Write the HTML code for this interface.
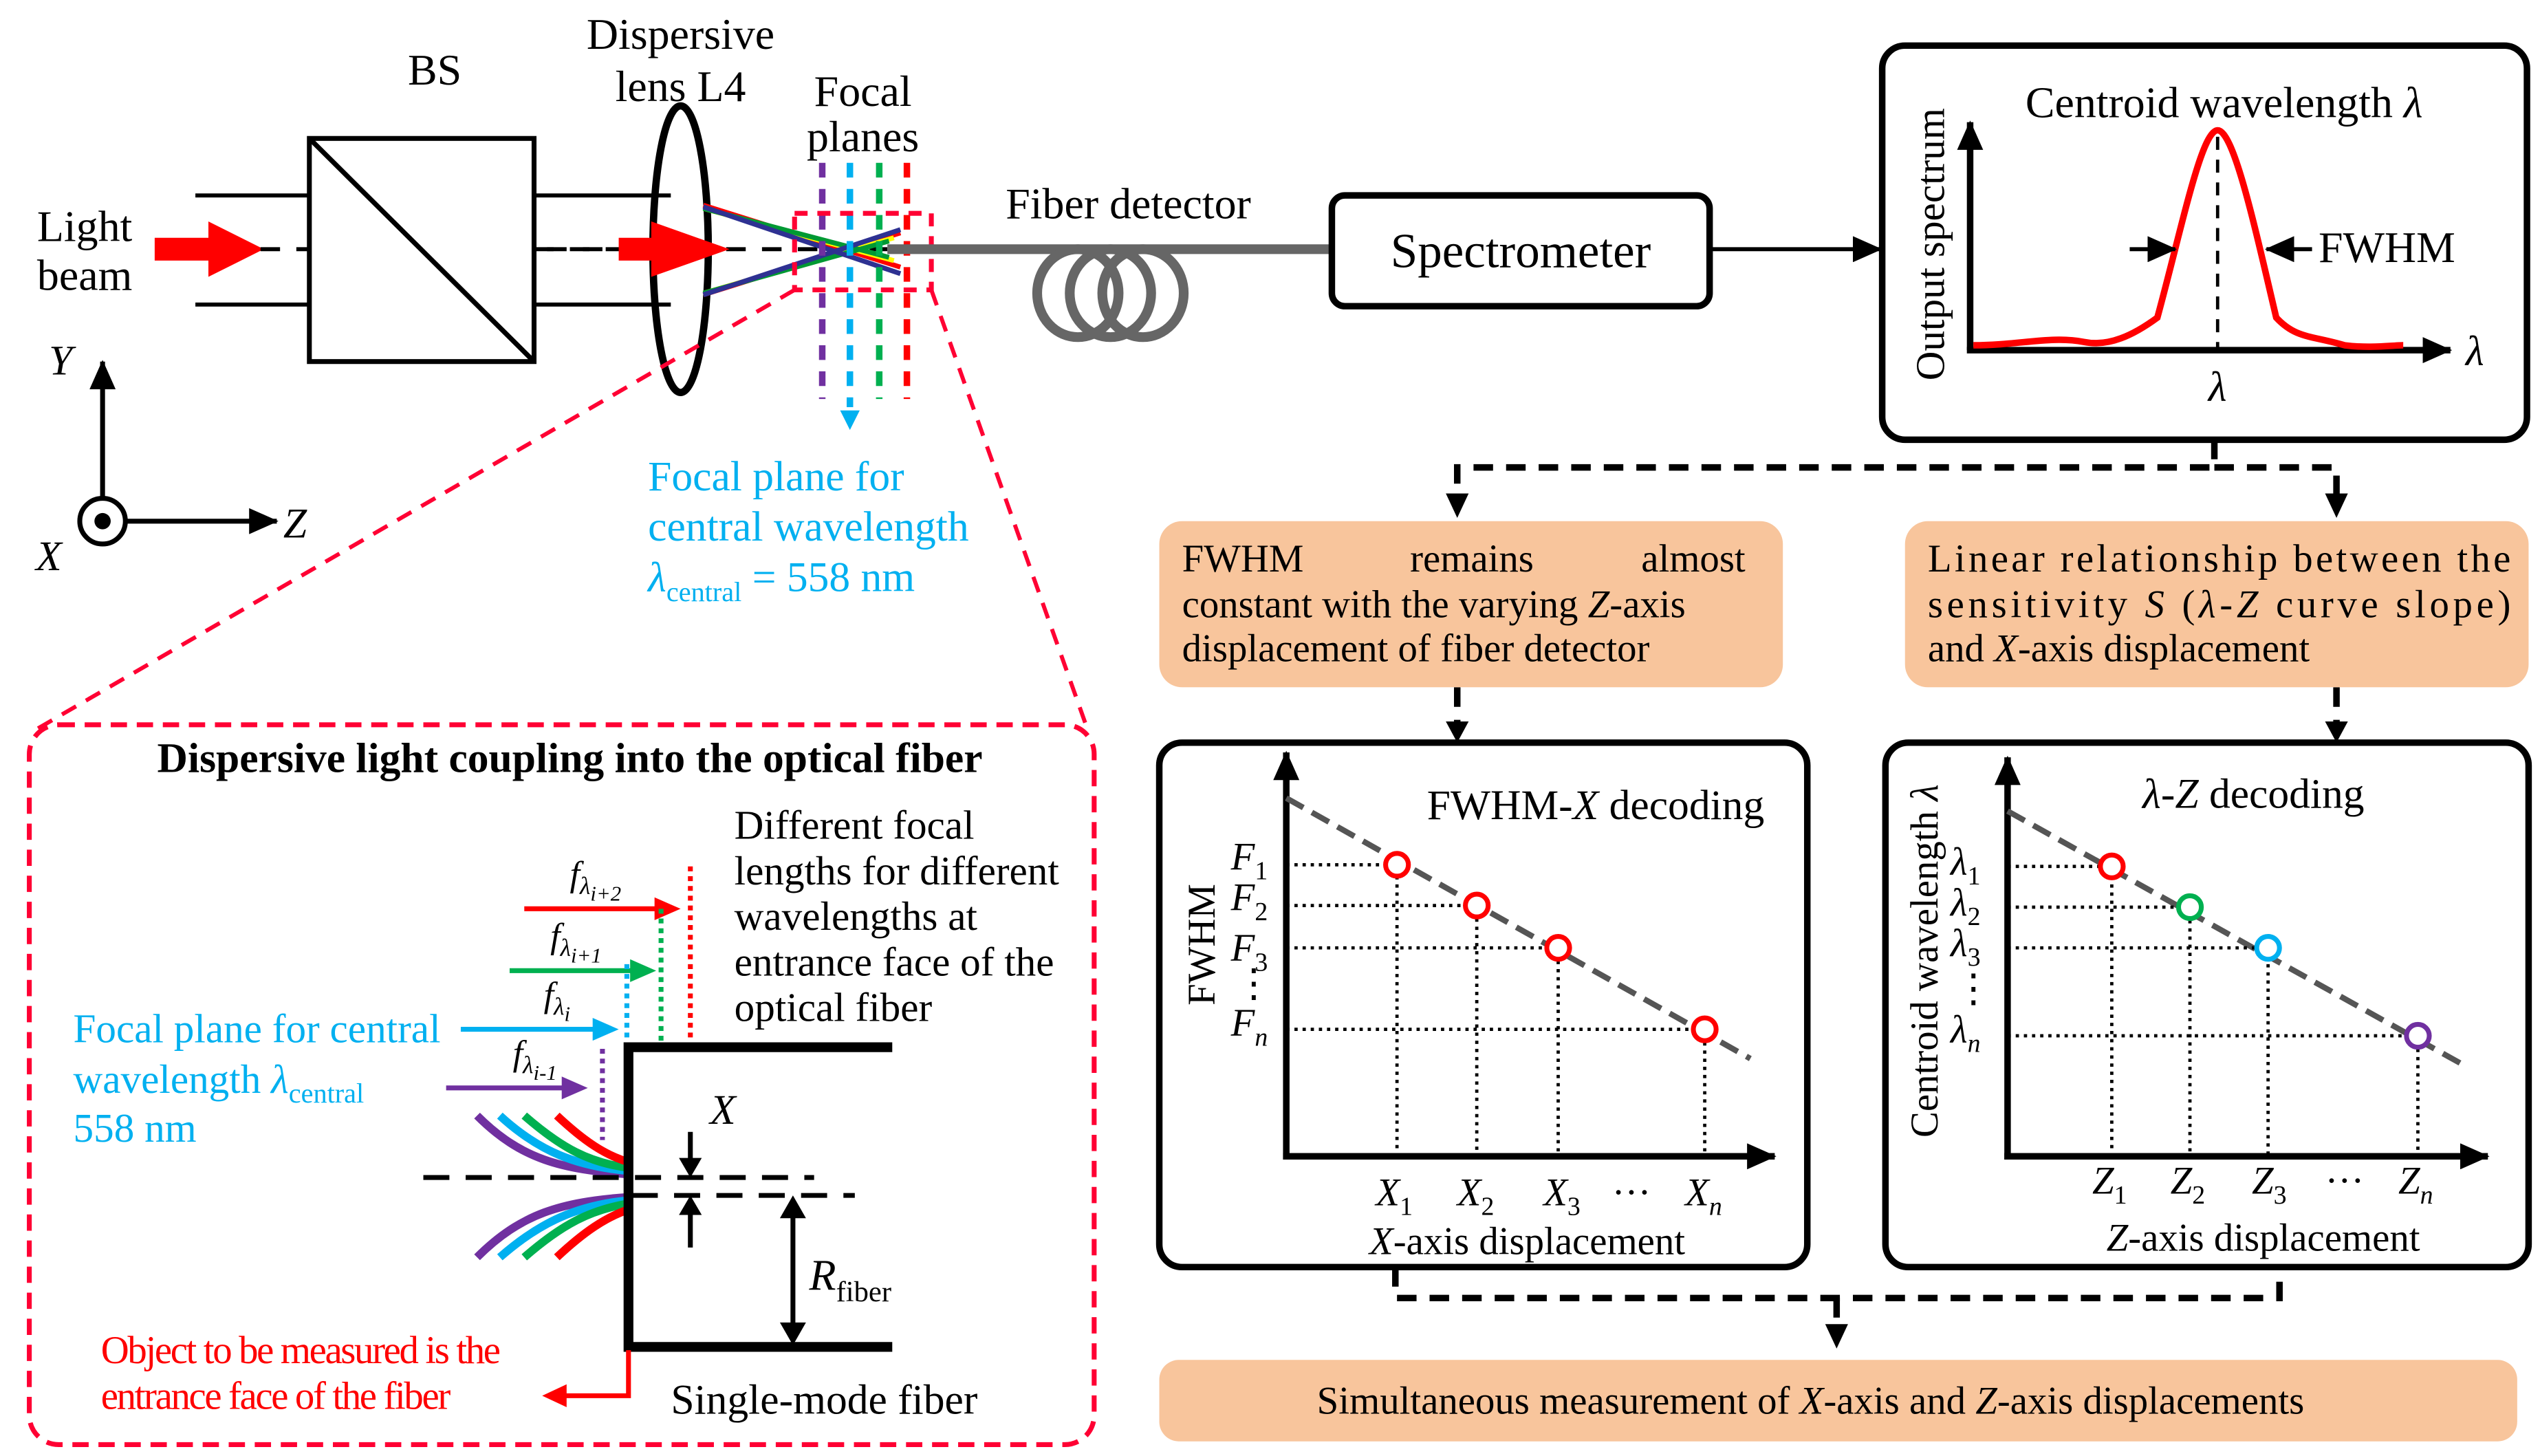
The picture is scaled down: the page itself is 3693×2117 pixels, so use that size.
<!DOCTYPE html>
<html><head><meta charset="utf-8"><style>
html,body{margin:0;padding:0;background:#fff;}
svg{display:block;}
svg *, text, tspan{font-family:"Liberation Serif","Times New Roman","DejaVu Serif",serif !important;}
text{fill:#000;}
</style></head><body>
<svg width="3693" height="2117" viewBox="0 0 1560 894" preserveAspectRatio="none" xmlns="http://www.w3.org/2000/svg" font-family="Liberation Serif, serif">
<defs>
<marker id="abig" markerWidth="18" markerHeight="16" refX="17" refY="8" orient="auto" markerUnits="userSpaceOnUse"><path d="M0,0 L18,8 L0,16z" fill="#000"/></marker>
</defs>
<rect width="1560" height="894" fill="#fff"/>
<g font-family="Liberation Serif, serif">
<!-- Light beam -->
<text x="52" y="148" font-size="27" text-anchor="middle">Light</text>
<text x="52" y="178" font-size="27" text-anchor="middle">beam</text>
<path d="M95,146 H128 V136 L162,153 L128,170 V160 H95z" fill="#f00"/>
<line x1="120" y1="120" x2="412" y2="120" stroke="#000" stroke-width="2.5"/>
<line x1="120" y1="187" x2="412" y2="187" stroke="#000" stroke-width="2.5"/>
<line x1="160" y1="153" x2="545" y2="153" stroke="#000" stroke-width="2.5" stroke-dasharray="12,10"/>
<!-- BS -->
<rect x="190" y="85" width="138" height="137" fill="#fff" stroke="#000" stroke-width="3"/>
<line x1="190" y1="85" x2="328" y2="222" stroke="#000" stroke-width="3"/>
<line x1="328" y1="153" x2="400" y2="153" stroke="#000" stroke-width="2.5" stroke-dasharray="12,10"/>
<text x="267" y="52" font-size="27" text-anchor="middle">BS</text>
<!-- Lens -->
<text x="418" y="30" font-size="27" text-anchor="middle">Dispersive</text>
<text x="418" y="62" font-size="27" text-anchor="middle">lens L4</text>
<ellipse cx="418" cy="153" rx="17" ry="88" fill="none" stroke="#000" stroke-width="4.5"/>
<path d="M380,146 H400 V136 L448,153 L400,170 V160 H380z" fill="#f00"/>
<!-- rays -->
<g stroke-width="3">
<line x1="432" y1="126" x2="553" y2="164" stroke="#f00"/>
<line x1="432" y1="181" x2="553" y2="143" stroke="#f00"/>
<line x1="432" y1="128" x2="549" y2="160" stroke="#ff0"/>
<line x1="432" y1="180" x2="549" y2="146" stroke="#ff0"/>
<line x1="432" y1="128" x2="546" y2="158" stroke="#093"/>
<line x1="432" y1="180" x2="546" y2="148" stroke="#093"/>
<line x1="432" y1="127" x2="553" y2="168" stroke="#2e3192"/>
<line x1="432" y1="181" x2="553" y2="141" stroke="#2e3192"/>
</g>
<text x="530" y="65" font-size="27" text-anchor="middle">Focal</text>
<text x="530" y="93" font-size="27" text-anchor="middle">planes</text>
<g stroke-width="4" stroke-dasharray="9,7">
<line x1="505" y1="100" x2="505" y2="245" stroke="#7030a0"/>
<line x1="522" y1="100" x2="522" y2="250" stroke="#00b0f0"/>
<line x1="540" y1="100" x2="540" y2="245" stroke="#00b050"/>
<line x1="557" y1="100" x2="557" y2="245" stroke="#f00"/>
</g>
<path d="M516,252 L528,252 L522,264z" fill="#00b0f0"/>
<rect x="488" y="131" width="84" height="47" fill="none" stroke="#ff0033" stroke-width="3" stroke-dasharray="8,6"/>
<!-- fiber -->
<line x1="545" y1="153" x2="820" y2="153" stroke="#666" stroke-width="6"/>
<g fill="none" stroke="#666" stroke-width="6">
<ellipse cx="662" cy="180" rx="25" ry="27"/>
<ellipse cx="682" cy="180" rx="25" ry="27"/>
<ellipse cx="702" cy="180" rx="25" ry="27"/>
</g>
<text x="693" y="134" font-size="27" text-anchor="middle">Fiber detector</text>
<rect x="818" y="120" width="232" height="68" rx="8" fill="#fff" stroke="#000" stroke-width="4"/>
<text x="934" y="164" font-size="30" text-anchor="middle">Spectrometer</text>
<line x1="1050" y1="153" x2="1155" y2="153" stroke="#000" stroke-width="2.5" marker-end="url(#abig)"/>

<!-- Spectrum box -->
<rect x="1156" y="28" width="396" height="242" rx="14" fill="#fff" stroke="#000" stroke-width="4"/>
<text x="1366" y="72" font-size="27" text-anchor="middle">Centroid wavelength <tspan font-style="italic">λ</tspan></text>
<line x1="1210" y1="215" x2="1210" y2="75" stroke="#000" stroke-width="4" marker-end="url(#abig)"/>
<line x1="1208" y1="215" x2="1505" y2="215" stroke="#000" stroke-width="4" marker-end="url(#abig)"/>
<text transform="translate(1194,150) rotate(-90)" font-size="25" text-anchor="middle">Output spectrum</text>
<path d="M1212,212 C1240,212 1260,206 1280,210 C1295,213 1310,206 1325,195 C1340,140 1352,80 1362,80 C1372,80 1385,140 1398,195 C1410,208 1420,206 1440,212 C1455,214 1470,212 1476,212" fill="none" stroke="#f00" stroke-width="4"/>
<line x1="1362" y1="84" x2="1362" y2="215" stroke="#000" stroke-width="2" stroke-dasharray="8,6"/>
<text x="1362" y="246" font-size="26" font-style="italic" text-anchor="middle">λ</text>
<text x="1520" y="224" font-size="26" font-style="italic" text-anchor="middle">λ</text>
<line x1="1308" y1="153" x2="1336" y2="153" stroke="#000" stroke-width="2.5" marker-end="url(#abig)"/>
<line x1="1420" y1="153" x2="1392" y2="153" stroke="#000" stroke-width="2.5" marker-end="url(#abig)"/>
<text x="1424" y="161" font-size="27">FWHM</text>

<!-- connectors -->
<g stroke="#000" stroke-width="4" stroke-dasharray="12,8" fill="none">
<path d="M1360,270 V287 H895 V305"/>
<path d="M1360,287 H1435 V305"/>
<path d="M895,422 V445"/>
<path d="M1435,422 V445"/>
<path d="M857,778 V797 H1400 V778"/>
<path d="M1128,797 V815"/>
</g>
<path d="M888,303 L902,303 L895,318z M1428,303 L1442,303 L1435,318z M888,443 L902,443 L895,456z M1428,443 L1442,443 L1435,456z M1121,813 L1135,813 L1128,828z" fill="#000"/>

<!-- orange boxes -->
<rect x="712" y="320" width="383" height="102" rx="14" fill="#f8c59c"/>
<text font-size="24"><tspan x="726" y="351">FWHM</tspan><tspan x="866" y="351">remains</tspan><tspan x="1008" y="351">almost</tspan></text>
<text x="726" y="379" font-size="24">constant with the varying <tspan font-style="italic">Z</tspan>-axis</text>
<text x="726" y="406" font-size="24">displacement of fiber detector</text>
<rect x="1170" y="320" width="383" height="102" rx="14" fill="#f8c59c"/>
<text x="1184" y="351" font-size="24" textLength="358" lengthAdjust="spacing">Linear relationship between the</text>
<text x="1184" y="379" font-size="24" textLength="358" lengthAdjust="spacing">sensitivity <tspan font-style="italic">S</tspan> (<tspan font-style="italic">λ</tspan>-<tspan font-style="italic">Z</tspan> curve slope)</text>
<text x="1184" y="406" font-size="24">and <tspan font-style="italic">X</tspan>-axis displacement</text>
<rect x="712" y="835" width="834" height="50" rx="12" fill="#f8c59c"/>
<text x="1112" y="868" font-size="24" text-anchor="middle">Simultaneous measurement of <tspan font-style="italic">X</tspan>-axis and <tspan font-style="italic">Z</tspan>-axis displacements</text>

<!-- FWHM-X chart -->
<rect x="712" y="456" width="398" height="322" rx="14" fill="#fff" stroke="#000" stroke-width="4"/>
<line x1="790" y1="712" x2="790" y2="462" stroke="#000" stroke-width="4" marker-end="url(#abig)"/>
<line x1="788" y1="710" x2="1090" y2="710" stroke="#000" stroke-width="4" marker-end="url(#abig)"/>
<text x="980" y="503" font-size="26" text-anchor="middle">FWHM-<tspan font-style="italic">X</tspan> decoding</text>
<line x1="790" y1="490" x2="1075" y2="650" stroke="#555" stroke-width="3.5" stroke-dasharray="12,6"/>
<path d="M790,531 H858 V710 M790,556 H907 V710 M790,582 H957 V710 M790,632 H1047 V710" fill="none" stroke="#000" stroke-width="2" stroke-dasharray="2,3"/>
<g fill="#fff" stroke="#f00" stroke-width="3">
<circle cx="858" cy="531" r="7"/><circle cx="907" cy="556" r="7"/><circle cx="957" cy="582" r="7"/><circle cx="1047" cy="632" r="7"/>
</g>
<g font-size="24" font-style="italic">
<text x="756" y="534">F<tspan font-style="normal" font-size="16" dy="6">1</tspan></text>
<text x="756" y="559">F<tspan font-style="normal" font-size="16" dy="6">2</tspan></text>
<text x="756" y="590">F<tspan font-style="normal" font-size="16" dy="6">3</tspan></text>
<text x="758" y="612" font-style="normal">⋮</text>
<text x="756" y="636">F<tspan font-size="16" dy="6">n</tspan></text>
<text x="845" y="740">X<tspan font-style="normal" font-size="16" dy="6">1</tspan></text>
<text x="895" y="740">X<tspan font-style="normal" font-size="16" dy="6">2</tspan></text>
<text x="948" y="740">X<tspan font-style="normal" font-size="16" dy="6">3</tspan></text>
<text x="990" y="740" font-style="normal">···</text>
<text x="1035" y="740">X<tspan font-size="16" dy="6">n</tspan></text>
</g>
<text transform="translate(746,580) rotate(-90)" font-size="24" text-anchor="middle">FWHM</text>
<text x="938" y="770" font-size="24" text-anchor="middle"><tspan font-style="italic">X</tspan>-axis displacement</text>

<!-- lambda-Z chart -->
<rect x="1158" y="456" width="395" height="322" rx="14" fill="#fff" stroke="#000" stroke-width="4"/>
<line x1="1233" y1="712" x2="1233" y2="465" stroke="#000" stroke-width="4" marker-end="url(#abig)"/>
<line x1="1231" y1="710" x2="1528" y2="710" stroke="#000" stroke-width="4" marker-end="url(#abig)"/>
<text x="1384" y="496" font-size="26" text-anchor="middle"><tspan font-style="italic">λ</tspan>-<tspan font-style="italic">Z</tspan> decoding</text>
<line x1="1233" y1="498" x2="1515" y2="655" stroke="#555" stroke-width="3.5" stroke-dasharray="12,6"/>
<path d="M1233,532 H1297 V710 M1233,557 H1345 V710 M1233,582 H1393 V710 M1233,636 H1485 V710" fill="none" stroke="#000" stroke-width="2" stroke-dasharray="2,3"/>
<g fill="#fff" stroke-width="3">
<circle cx="1297" cy="532" r="7" stroke="#f00"/><circle cx="1345" cy="557" r="7" stroke="#00b050"/><circle cx="1393" cy="582" r="7" stroke="#00b0f0"/><circle cx="1485" cy="636" r="7" stroke="#7030a0"/>
</g>
<g font-size="24" font-style="italic">
<text x="1198" y="537">λ<tspan font-style="normal" font-size="16" dy="6">1</tspan></text>
<text x="1198" y="562">λ<tspan font-style="normal" font-size="16" dy="6">2</tspan></text>
<text x="1198" y="587">λ<tspan font-style="normal" font-size="16" dy="6">3</tspan></text>
<text x="1200" y="615" font-style="normal">⋮</text>
<text x="1198" y="640">λ<tspan font-size="16" dy="6">n</tspan></text>
<text x="1285" y="733">Z<tspan font-style="normal" font-size="16" dy="6">1</tspan></text>
<text x="1333" y="733">Z<tspan font-style="normal" font-size="16" dy="6">2</tspan></text>
<text x="1383" y="733">Z<tspan font-style="normal" font-size="16" dy="6">3</tspan></text>
<text x="1428" y="733" font-style="normal">···</text>
<text x="1473" y="733">Z<tspan font-size="16" dy="6">n</tspan></text>
</g>
<text transform="translate(1190,590) rotate(-90)" font-size="24" text-anchor="middle">Centroid wavelength <tspan font-style="italic">λ</tspan></text>
<text x="1390" y="768" font-size="24" text-anchor="middle"><tspan font-style="italic">Z</tspan>-axis displacement</text>

<!-- coordinate axes -->
<line x1="63" y1="305" x2="63" y2="222" stroke="#000" stroke-width="3" marker-end="url(#abig)"/>
<line x1="78" y1="320" x2="170" y2="320" stroke="#000" stroke-width="3" marker-end="url(#abig)"/>
<circle cx="63" cy="320" r="14" fill="#fff" stroke="#000" stroke-width="3"/>
<circle cx="63" cy="320" r="5" fill="#000"/>
<text x="30" y="230" font-size="26" font-style="italic">Y</text>
<text x="174" y="330" font-size="26" font-style="italic">Z</text>
<text x="22" y="350" font-size="26" font-style="italic">X</text>

<!-- focal plane label -->
<text x="398" y="301" font-size="26" style="fill:#00b0f0">Focal plane for</text>
<text x="398" y="332" font-size="26" style="fill:#00b0f0">central  wavelength</text>
<text x="398" y="363" font-size="26" style="fill:#00b0f0"><tspan font-style="italic">λ</tspan><tspan font-size="17" dy="6">central</tspan><tspan dy="-6"> = 558 nm</tspan></text>

<!-- dashed red lines to inset -->
<line x1="488" y1="178" x2="22" y2="448" stroke="#ff0033" stroke-width="2.5" stroke-dasharray="10,7"/>
<line x1="572" y1="178" x2="668" y2="448" stroke="#ff0033" stroke-width="2.5" stroke-dasharray="10,7"/>
<rect x="18" y="445" width="654" height="442" rx="18" fill="#fff" stroke="#ff0033" stroke-width="3" stroke-dasharray="10,6"/>
<text x="350" y="474" font-size="26" font-weight="bold" text-anchor="middle">Dispersive light coupling into the optical  fiber</text>

<!-- inset contents -->
<g font-size="25">
<text x="451" y="515">Different focal</text>
<text x="451" y="543">lengths for different</text>
<text x="451" y="571">wavelengths at</text>
<text x="451" y="599">entrance face of the</text>
<text x="451" y="627">optical fiber</text>
</g>
<text x="45" y="640" font-size="25" style="fill:#00b0f0">Focal plane for central</text>
<text x="45" y="671" font-size="25" style="fill:#00b0f0">wavelength <tspan font-style="italic">λ</tspan><tspan font-size="17" dy="6">central</tspan></text>
<text x="45" y="701" font-size="25" style="fill:#00b0f0">558 nm</text>
<!-- f arrows -->
<g stroke-width="3">
<line x1="322" y1="558" x2="408" y2="558" stroke="#f00"/>
<path d="M402,551 L418,558 L402,565z" fill="#f00"/>
<line x1="313" y1="596" x2="392" y2="596" stroke="#00b050"/>
<path d="M387,589 L403,596 L387,603z" fill="#00b050"/>
<line x1="283" y1="632" x2="370" y2="632" stroke="#00b0f0"/>
<path d="M364,625 L380,632 L364,639z" fill="#00b0f0"/>
<line x1="274" y1="668" x2="350" y2="668" stroke="#7030a0"/>
<path d="M345,661 L361,668 L345,675z" fill="#7030a0"/>
</g>
<g stroke-width="3" stroke-dasharray="3,3">
<line x1="424" y1="532" x2="424" y2="640" stroke="#f00"/>
<line x1="406" y1="558" x2="406" y2="640" stroke="#00b050"/>
<line x1="385" y1="592" x2="385" y2="640" stroke="#00b0f0"/>
<line x1="370" y1="644" x2="370" y2="700" stroke="#7030a0"/>
</g>
<g font-size="22" font-style="italic">
<text x="350" y="544">f<tspan font-size="15" dy="5">λ</tspan><tspan font-size="13" dy="4">i+2</tspan></text>
<text x="338" y="582">f<tspan font-size="15" dy="5">λ</tspan><tspan font-size="13" dy="4">i+1</tspan></text>
<text x="334" y="618">f<tspan font-size="15" dy="5">λ</tspan><tspan font-size="13" dy="4">i</tspan></text>
<text x="315" y="654">f<tspan font-size="15" dy="5">λ</tspan><tspan font-size="13" dy="4">i-1</tspan></text>
</g>
<!-- curves -->
<g fill="none" stroke-width="5">
<path d="M293,685 C320,712 345,718 386,721" stroke="#7030a0"/>
<path d="M307,685 C332,708 355,716 386,719" stroke="#00b0f0"/>
<path d="M322,685 C345,705 362,714 386,717" stroke="#00b050"/>
<path d="M342,685 C358,700 372,710 388,714" stroke="#f00"/>
<path d="M293,772 C320,745 345,738 386,735" stroke="#7030a0"/>
<path d="M307,772 C332,750 355,740 386,737" stroke="#00b0f0"/>
<path d="M322,772 C345,752 362,743 386,739" stroke="#00b050"/>
<path d="M342,772 C358,757 372,747 388,742" stroke="#f00"/>
</g>
<line x1="260" y1="723" x2="500" y2="723" stroke="#000" stroke-width="3" stroke-dasharray="16,10"/>
<line x1="388" y1="734" x2="525" y2="734" stroke="#000" stroke-width="3" stroke-dasharray="16,10"/>
<path d="M548,643 H386 V827 H548" fill="none" stroke="#000" stroke-width="6"/>
<line x1="424" y1="695" x2="424" y2="715" stroke="#000" stroke-width="3"/>
<path d="M417,711 L431,711 L424,723z" fill="#000"/>
<line x1="424" y1="744" x2="424" y2="766" stroke="#000" stroke-width="3"/>
<path d="M417,746 L431,746 L424,734z" fill="#000"/>
<text x="436" y="690" font-size="26" font-style="italic">X</text>
<line x1="487" y1="745" x2="487" y2="815" stroke="#000" stroke-width="3"/>
<path d="M479,748 L495,748 L487,734z M479,812 L495,812 L487,826z" fill="#000"/>
<text x="497" y="792" font-size="27" font-style="italic">R<tspan font-style="normal" font-size="18" dy="7">fiber</tspan></text>
<text x="412" y="868" font-size="26">Single-mode fiber</text>
<path d="M386,829 V857 H345" fill="none" stroke="#f00" stroke-width="3"/>
<path d="M348,850 L333,857 L348,864z" fill="#f00"/>
<text x="62" y="837" font-size="24" style="fill:#f00" letter-spacing="-1">Object to be measured is the</text>
<text x="62" y="865" font-size="24" style="fill:#f00" letter-spacing="-1">entrance face of the fiber</text>
</g>
</svg>
</body></html>
